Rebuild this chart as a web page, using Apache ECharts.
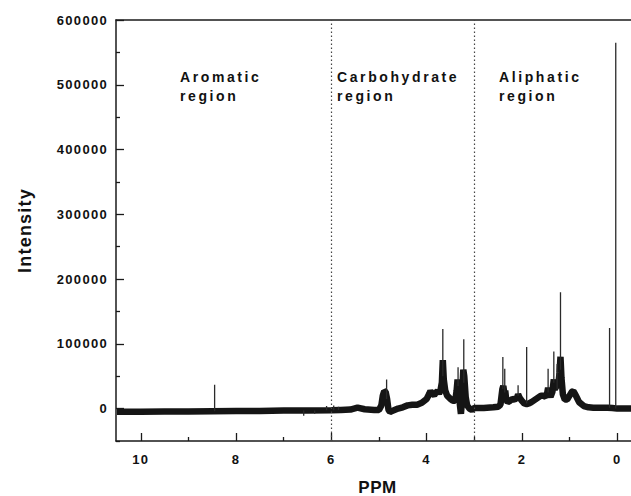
<!DOCTYPE html>
<html><head><meta charset="utf-8">
<script src="https://cdn.jsdelivr.net/npm/echarts@6/dist/echarts.min.js"></script>
<style>html,body{margin:0;padding:0;background:#fff}#main{width:631px;height:496px}</style>
</head><body><div id="main"></div>
<script>
// ---- axis ticks / labels ----
const xTickLabels = [0, 2, 4, 6, 8, 10];
const xMinorTicks = [1, 3, 5, 7, 9];
const yTickLabels = [0, 100000, 200000, 300000, 400000, 500000, 600000];
const yMinorTicks = [-50000, 50000, 150000, 250000, 350000, 450000, 550000];
const regionBounds = [6, 3];
const regionNames = ['Aromatic\nregion', 'Carbohydrate\nregion', 'Aliphatic\nregion'];

// ---- broad spectrum profile (ppm, intensity) ----
const broadPPM = [10.5,10.0,9.5,9.0,8.5,8.0,7.5,7.0,6.5,6.0,5.8,5.6,5.45,5.3,5.1,5.0,4.95,4.92,4.89,4.86,4.83,4.80,4.77,4.7,4.6,4.5,4.4,4.3,4.2,4.1,4.0,3.95,3.92,3.88,3.84,3.80,3.77,3.74,3.71,3.68,3.66,3.64,3.61,3.57,3.50,3.45,3.40,3.37,3.35,3.33,3.30,3.28,3.26,3.23,3.21,3.18,3.15,3.10,3.05,3.0,2.8,2.6,2.5,2.45,2.41,2.39,2.37,2.35,2.33,2.3,2.25,2.2,2.15,2.1,2.08,2.05,2.0,1.95,1.9,1.85,1.8,1.7,1.6,1.55,1.5,1.47,1.45,1.43,1.4,1.36,1.33,1.31,1.28,1.26,1.24,1.21,1.19,1.17,1.14,1.1,1.05,1.0,0.95,0.92,0.88,0.84,0.80,0.7,0.6,0.5,0.3,0.2,0.1,0.0,-0.2,-0.3];
const broadIntensity = [-5000,-5000,-4500,-4500,-4000,-3500,-3500,-3000,-3000,-2500,-2000,-1500,1500,-1000,-2000,-2000,5000,20000,27000,26000,15000,-2000,-5000,-3000,0,2000,5000,6000,6000,9000,15000,22000,27000,23000,21000,25000,27000,23000,28000,40000,75000,45000,28000,20000,15000,12000,12000,28000,45000,32000,5000,-8000,10000,60000,50000,18000,5000,0,-2000,1000,1000,2000,3000,6000,30000,35000,24000,28000,14000,10000,12000,15000,14000,17000,22000,17000,12000,8000,7000,8000,10000,15000,20000,20000,18000,24000,32000,23000,18000,26000,45000,30000,34000,40000,34000,55000,80000,48000,22000,14000,14000,20000,26000,27000,22000,16000,10000,4000,2000,1500,1500,1500,1000,0,0,0];

// ---- sharp peaks ----
const peakPPM  = [8.45, 6.58, 6.35, 6.1, 5.95, 5.85, 4.84, 3.66, 3.34, 3.22, 2.40, 2.36, 2.08, 1.90, 1.45, 1.33, 1.26, 1.19, 0.16, 0.03];
const peakTop  = [37000, -11000, -8000, 4000, 5000, 3000, 45000, 123000, 64000, 107000, 79500, 61500, 36000, 95000, 61500, 88000, 69000, 179500, 124600, 565000];
const peakBase = [-4000, -3000, -3000, -2500, -2500, -2000, 15000, 50000, 35000, 40000, 30000, 25000, 20000, 8000, 25000, 40000, 30000, 60000, 1500, 0];

const FONT = '"Liberation Sans", Arial, sans-serif';
const broadData = broadPPM.map((p, i) => [p, broadIntensity[i]]);
const peakData = [];
peakPPM.forEach((p, i) => { peakData.push([p, peakBase[i]], [p, peakTop[i]], [p, '-']); });

const chart = echarts.init(document.getElementById('main'), null, {renderer: 'svg'});
const axisCommon = {type: 'value', min: -0.29, max: 10.52, inverse: true, splitLine: {show: false}};
const option = {
  animation: false,
  backgroundColor: '#fff',
  grid: {left: 116, top: 20, right: 0, height: 421, outerBoundsMode: 'none', containLabel: false},
  xAxis: [
    Object.assign({}, axisCommon, {
      position: 'bottom', name: 'PPM', nameLocation: 'middle', nameGap: 39,
      nameTextStyle: {fontFamily: FONT, fontWeight: 'bold', fontSize: 17, lineHeight: 15, color: '#111', padding: [0, 0, 0, 8]},
      axisLine: {show: true, onZero: false, lineStyle: {color: '#1a1a1a', width: 1.5}},
      axisTick: {show: true, inside: true, length: 8, customValues: xTickLabels, lineStyle: {color: '#1a1a1a', width: 1.3}},
      axisLabel: {show: true, customValues: xTickLabels, margin: 12, fontFamily: FONT, fontWeight: 'bold', fontSize: 13, color: '#111'}
    }),
    Object.assign({}, axisCommon, {
      position: 'bottom',
      axisLine: {show: false, onZero: false},
      axisTick: {show: true, inside: true, length: 4, customValues: xMinorTicks, lineStyle: {color: '#1a1a1a', width: 1.3}},
      axisLabel: {show: false}
    }),
    Object.assign({}, axisCommon, {
      position: 'top',
      axisLine: {show: true, onZero: false, lineStyle: {color: '#1a1a1a', width: 1.5}},
      axisTick: {show: false}, axisLabel: {show: false}
    })
  ],
  yAxis: [
    {
      type: 'value', min: -50000, max: 600000, position: 'left',
      name: 'Intensity', nameLocation: 'middle', nameGap: 82,
      nameTextStyle: {fontFamily: FONT, fontWeight: 'bold', fontSize: 18, color: '#111'},
      splitLine: {show: false},
      axisLine: {show: true, onZero: false, lineStyle: {color: '#1a1a1a', width: 1.5}},
      axisTick: {show: true, inside: true, length: 8, customValues: yTickLabels, lineStyle: {color: '#1a1a1a', width: 1.3}},
      axisLabel: {show: true, customValues: yTickLabels, margin: 8, formatter: v => String(v),
        fontFamily: FONT, fontWeight: 'bold', fontSize: 13, color: '#111'}
    },
    {
      type: 'value', min: -50000, max: 600000, position: 'left',
      splitLine: {show: false}, axisLine: {show: false, onZero: false},
      axisTick: {show: true, inside: true, length: 4, customValues: yMinorTicks, lineStyle: {color: '#1a1a1a', width: 1.3}},
      axisLabel: {show: false}
    }
  ],
  graphic: [
    {type: 'text', left: 180, top: 67, style: {text: regionNames[0], font: 'bold 14px ' + FONT, fill: '#111', lineHeight: 19}},
    {type: 'text', left: 337, top: 67, style: {text: regionNames[1], font: 'bold 14px ' + FONT, fill: '#111', lineHeight: 19}},
    {type: 'text', left: 499, top: 67, style: {text: regionNames[2], font: 'bold 14px ' + FONT, fill: '#111', lineHeight: 19}}
  ],
  series: [
    {
      type: 'line', name: 'profile', data: broadData, showSymbol: false, symbol: 'none',
      lineStyle: {color: '#151515', width: 6.5, join: 'bevel', cap: 'butt'},
      markLine: {
        silent: true, symbol: ['none', 'none'], label: {show: false},
        lineStyle: {type: [1.5, 2.5], color: '#444', width: 1.2},
        data: regionBounds.map(v => ({xAxis: v}))
      }
    },
    {
      type: 'line', name: 'peaks', data: peakData, showSymbol: false, symbol: 'none', connectNulls: false,
      lineStyle: {color: '#2a2a2a', width: 1.3}
    }
  ]
};
chart.setOption(option);

function applySpacing() {
  document.querySelectorAll('#main svg text').forEach(t => {
    const s = t.textContent.trim();
    let ls = null;
    if (/^-?\d+$/.test(s)) ls = '1.3px';
    else if (/Aromatic|region|Carbohydrate|Aliphatic/.test(s)) ls = '2.6px';
    else if (s === 'Intensity') ls = '1.2px';
    else if (s === 'PPM') ls = '0.6px';
    if (ls) t.style.letterSpacing = ls;
  });
}
applySpacing();
chart.on('finished', applySpacing);
</script></body></html>
